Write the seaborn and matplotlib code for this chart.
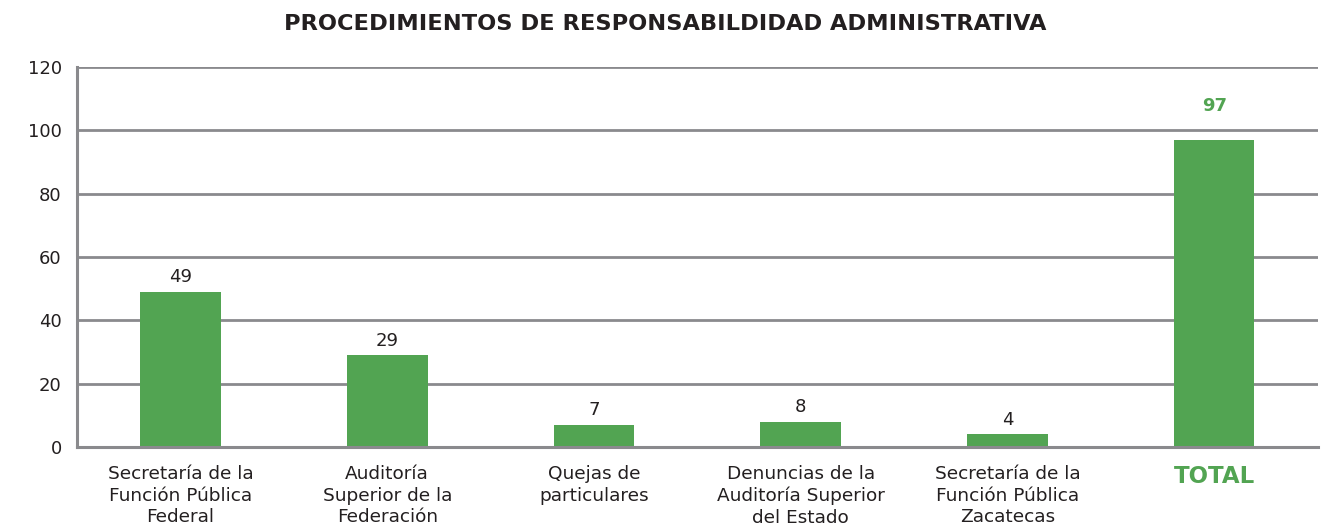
import matplotlib
matplotlib.use("Agg")
import matplotlib.pyplot as plt
import seaborn as sns
import pandas as pd

categories = [
    "Secretaría de la\nFunción Pública\nFederal",
    "Auditoría\nSuperior de la\nFederación",
    "Quejas de\nparticulares",
    "Denuncias de la\nAuditoría Superior\ndel Estado",
    "Secretaría de la\nFunción Pública\nZacatecas",
    "TOTAL",
]
values = [49, 29, 7, 8, 4, 97]
yticks = [0, 20, 40, 60, 80, 100, 120]
title = "PROCEDIMIENTOS DE RESPONSABILDIDAD ADMINISTRATIVA"

GREEN = "#52a452"
GRID = "#8a8a8d"
TEXT = "#231f20"

sns.set_theme(style="white")
plt.rcParams["font.family"] = ["DejaVu Sans"]

df = pd.DataFrame({"cat": categories, "val": values})

fig = plt.figure(figsize=(13.31, 5.26), dpi=100)
ax = fig.add_axes([0.0579, 0.150, 0.932, 0.7226])
sns.barplot(data=df, x="cat", y="val", color=GREEN, width=0.39, ax=ax,
            saturation=1, zorder=3, linewidth=0)

ax.set_ylim(0, 120)
ax.set_xlim(-0.5, len(categories) - 0.5)
ax.set_yticks(yticks)
ax.set_yticklabels([str(t) for t in yticks], fontsize=13, color=TEXT)
ax.yaxis.grid(True, color=GRID, linewidth=2)
ax.set_axisbelow(True)
for s in ["top", "right"]:
    ax.spines[s].set_visible(False)
for s in ["left", "bottom"]:
    ax.spines[s].set_color(GRID)
    ax.spines[s].set_linewidth(2.2)
    ax.spines[s].set_zorder(4)
ax.tick_params(axis="x", length=0, pad=13)
ax.tick_params(axis="y", length=0, pad=11)
ax.set_xlabel("")
ax.set_ylabel("")

ax.set_xticks(range(len(categories)))
labels = ax.set_xticklabels(categories, fontsize=13.3, color=TEXT, linespacing=1.25)
labels[-1].set_color(GREEN)
labels[-1].set_fontweight("bold")
labels[-1].set_fontsize(16.5)

for i, v in enumerate(values):
    is_total = i == len(values) - 1
    ax.annotate(str(v), (i, v), xytext=(0, 18 if is_total else 4),
                textcoords="offset points",
                ha="center", va="bottom", fontsize=13,
                color=GREEN if is_total else TEXT,
                fontweight="bold" if is_total else "normal")

fig.text(0.5, 0.955, title, ha="center", va="center", fontsize=16.2,
         fontweight="bold", color=TEXT)

fig.savefig("out.png", dpi=100)
